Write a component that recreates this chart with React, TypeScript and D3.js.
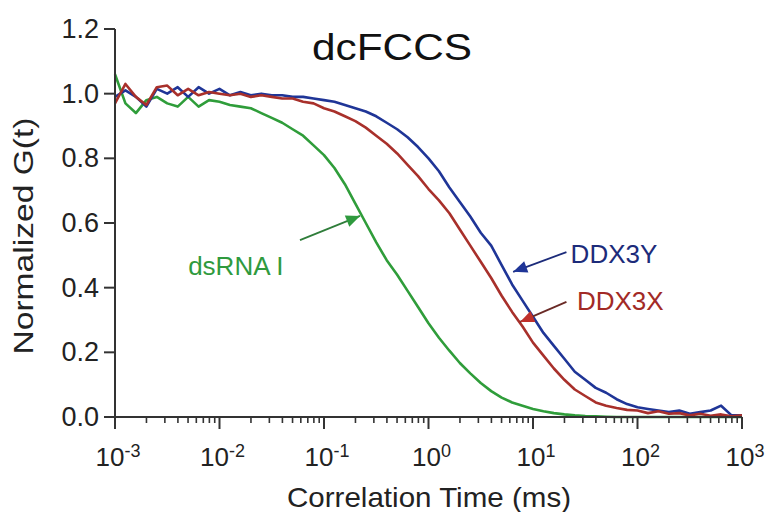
import * as d3 from "d3";
import React from "react";

// correlation time exponents (log10 of ms), shared by all three curves
const logTime = [
  -3.0, -2.9, -2.8, -2.7, -2.6, -2.5, -2.4, -2.3, -2.2, -2.1,
  -2.0, -1.9, -1.8, -1.7, -1.6, -1.5, -1.4, -1.3, -1.2, -1.1,
  -1.0, -0.9, -0.8, -0.7, -0.6, -0.5, -0.4, -0.3, -0.2, -0.1,
  0.0, 0.1, 0.2, 0.3, 0.4, 0.5, 0.6, 0.7, 0.8, 0.9,
  1.0, 1.1, 1.2, 1.3, 1.4, 1.5, 1.6, 1.7, 1.8, 1.9,
  2.0, 2.1, 2.2, 2.3, 2.4, 2.5, 2.6, 2.7, 2.8, 2.9, 3.0,
];

const dsRNA = [
  1.06, 0.97, 0.94, 0.98, 0.99, 0.97, 0.96, 0.99, 0.96, 0.98,
  0.975, 0.965, 0.96, 0.955, 0.94, 0.925, 0.91, 0.89, 0.87, 0.84,
  0.81, 0.77, 0.72, 0.66, 0.6, 0.54, 0.485, 0.44, 0.39, 0.34,
  0.29, 0.245, 0.205, 0.167, 0.135, 0.105, 0.08, 0.06, 0.045, 0.035,
  0.025, 0.018, 0.012, 0.008, 0.005, 0.003, 0.002, 0.001, 0.0, 0.0,
  0.0, 0.0, 0.0, 0.0, 0.0, 0.0, 0.0, 0.0, 0.0, 0.0, 0.0,
];

const ddx3y = [
  0.99, 1.01, 0.99, 0.96, 1.015, 1.0, 1.02, 0.99, 1.02, 1.0,
  1.015, 0.995, 1.005, 0.995, 1.0, 0.995, 0.995, 0.99, 0.99, 0.985,
  0.98, 0.975, 0.965, 0.955, 0.945, 0.93, 0.91, 0.89, 0.865, 0.835,
  0.8, 0.76, 0.71, 0.665, 0.62, 0.57, 0.53, 0.47, 0.41, 0.36,
  0.31, 0.26, 0.22, 0.18, 0.14, 0.115, 0.09, 0.075, 0.055, 0.04,
  0.03, 0.025, 0.02, 0.015, 0.02, 0.01, 0.015, 0.02, 0.035, 0.005, 0.005,
];

const ddx3x = [
  0.97, 1.03, 0.99, 0.965, 1.02, 1.025, 0.995, 1.015, 0.995, 1.005,
  1.0, 0.995, 1.0, 0.99, 0.995, 0.99, 0.985, 0.985, 0.975, 0.97,
  0.955, 0.945, 0.93, 0.915, 0.895, 0.87, 0.845, 0.815, 0.78, 0.745,
  0.705, 0.67, 0.63, 0.58, 0.53, 0.48, 0.43, 0.375, 0.325, 0.28,
  0.23, 0.19, 0.15, 0.115, 0.085, 0.065, 0.045, 0.035, 0.028, 0.022,
  0.02, 0.012, 0.018, 0.01, 0.012, 0.005, 0.01, 0.004, 0.008, 0.002, 0.005,
];

const yTicks = [0, 0.2, 0.4, 0.6, 0.8, 1.0, 1.2];
const xDecades = [-3, -2, -1, 0, 1, 2, 3];

const series = [
  { name: "dsRNA I", values: dsRNA, color: "#2f9d3a" },
  { name: "DDX3Y", values: ddx3y, color: "#1f3597" },
  { name: "DDX3X", values: ddx3x, color: "#a8302b" },
];

// labels with arrows, positions in data space: [log10 t, G]
const notes = [
  { text: "dsRNA I", color: "#2f9a3e", arrow: "#2f7d3a", head: "#2f9a3e", label: [-2.3, 0.44], tail: [-1.23, 0.547], tip: [-0.655, 0.622] },
  { text: "DDX3Y", color: "#1c2b7a", arrow: "#1c2b7a", head: "#1f3597", label: [1.36, 0.476], tail: [1.32, 0.51], tip: [0.81, 0.449] },
  { text: "DDX3X", color: "#a22a26", arrow: "#6a2a26", head: "#c0302b", label: [1.42, 0.331], tail: [1.32, 0.356], tip: [0.876, 0.294] },
];

const W = 766;
const H = 512;
const left = 115;
const right = 742;
const top = 29;
const bottom = 417;
const font = "'Liberation Sans', Arial, sans-serif";

export default function App() {
  const x = d3.scaleLog().domain([1e-3, 1e3]).range([left, right]);
  const y = d3.scaleLinear().domain([0, 1.2]).range([bottom, top]);

  const line = d3
    .line<number>()
    .x((d, i) => x(Math.pow(10, logTime[i])))
    .y((d) => y(d));

  const minor: number[] = [];
  xDecades.slice(0, -1).forEach((k) => {
    for (let m = 2; m <= 9; m++) minor.push(m * Math.pow(10, k));
  });

  const px = (p: number[]) => [x(Math.pow(10, p[0])), y(p[1])];

  function arrowHead(tail: number[], tip: number[]) {
    const [x0, y0] = px(tail);
    const [x1, y1] = px(tip);
    const a = Math.atan2(y1 - y0, x1 - x0);
    const len = 14;
    const w = 6;
    const bx = x1 - len * Math.cos(a);
    const by = y1 - len * Math.sin(a);
    const nx = -Math.sin(a) * w;
    const ny = Math.cos(a) * w;
    return `M${x1},${y1}L${bx + nx},${by + ny}L${bx - nx},${by - ny}Z`;
  }

  return (
    <svg
      width={W}
      height={H}
      style={{ position: "absolute", left: 0, top: 0, background: "#fff" }}
      fontFamily={font}
    >
      <text x={392} y={60} fontSize={36} textAnchor="middle" textLength={160} lengthAdjust="spacingAndGlyphs" fill="#111">
        dcFCCS
      </text>

      {/* curves */}
      {series.map((s) => (
        <path key={s.name} d={line(s.values) || ""} fill="none" stroke={s.color} strokeWidth={2.6} strokeLinejoin="round" />
      ))}

      {/* y axis */}
      <line x1={left} x2={left} y1={top} y2={bottom} stroke="#333" strokeWidth={2} />
      {yTicks.map((t) => (
        <g key={t}>
          <line x1={left - 11} x2={left} y1={y(t)} y2={y(t)} stroke="#333" strokeWidth={2} />
          <text x={left - 16} y={y(t) + 9} fontSize={27} textAnchor="end" fill="#222">
            {t.toFixed(1)}
          </text>
        </g>
      ))}

      {/* x axis */}
      <line x1={left} x2={right} y1={bottom} y2={bottom} stroke="#333" strokeWidth={2} />
      {minor.map((t) => (
        <line key={t} x1={x(t)} x2={x(t)} y1={bottom} y2={bottom + 6} stroke="#333" strokeWidth={1.6} />
      ))}
      {xDecades.map((k) => (
        <g key={k}>
          <line x1={x(Math.pow(10, k))} x2={x(Math.pow(10, k))} y1={bottom} y2={bottom + 12} stroke="#333" strokeWidth={2} />
          <text x={x(Math.pow(10, k)) + 3} y={466} fontSize={26} textAnchor="middle" fill="#222">
            10
            <tspan fontSize={18} dy={-9}>
              {k}
            </tspan>
          </text>
        </g>
      ))}

      <text x={429} y={507} fontSize={28} textAnchor="middle" textLength={284} lengthAdjust="spacingAndGlyphs" fill="#222">
        Correlation Time (ms)
      </text>
      <text
        transform={`translate(33,236) rotate(-90)`}
        fontSize={28}
        textAnchor="middle"
        textLength={237}
        lengthAdjust="spacingAndGlyphs"
        fill="#222"
      >
        Normalized G(t)
      </text>

      {/* annotations */}
      {notes.map((n) => {
        const [tx, ty] = px(n.tail);
        const [hx, hy] = px(n.tip);
        const [lx, ly] = px(n.label);
        return (
          <g key={n.text}>
            <line x1={tx} y1={ty} x2={hx} y2={hy} stroke={n.arrow} strokeWidth={1.8} />
            <path d={arrowHead(n.tail, n.tip)} fill={n.head} />
            <text x={lx} y={ly} fontSize={26} fill={n.color}>
              {n.text}
            </text>
          </g>
        );
      })}
    </svg>
  );
}
